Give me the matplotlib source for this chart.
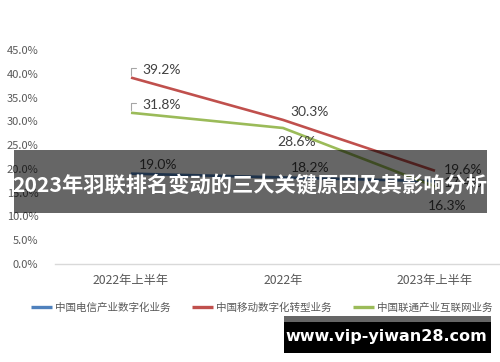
import matplotlib
matplotlib.use("Agg")
import matplotlib.pyplot as plt
from matplotlib.patches import Rectangle
from matplotlib.ticker import FuncFormatter, MultipleLocator

plt.rcParams['font.family'] = ['Noto Sans CJK SC', 'DejaVu Sans']

categories = ["2022年上半年", "2022年", "2023年上半年"]
series_names = ["中国电信产业数字化业务", "中国移动数字化转型业务", "中国联通产业互联网业务"]
telecom = [19.0, 18.2, 17.4]
mobile = [39.2, 30.3, 19.6]
unicom = [31.8, 28.6, 16.3]
title = "2023年羽联排名变动的三大关键原因及其影响分析"
watermark = "www.vip-yiwan28.com"

colors = ["#4F81BD", "#C0504D", "#9BBB59"]

W, H = 500, 362
fig = plt.figure(figsize=(W / 100, H / 100), dpi=100)
ax = fig.add_axes([55 / W, 1 - 264 / H, (511 - 55) / W, (264 - 50) / H])
ax.set_xlim(-0.5, 2.5)
ax.set_ylim(0, 45)
x = list(range(len(categories)))

for vals, c, name in zip([telecom, mobile, unicom], colors, series_names):
    ax.plot(x, vals, color=c, lw=1.9, label=name, solid_capstyle='butt', zorder=3)

for s in ['top', 'right', 'left']:
    ax.spines[s].set_visible(False)
ax.spines['bottom'].set_color('#D9D9D9')
ax.spines['bottom'].set_linewidth(1.0)
ax.yaxis.set_major_locator(MultipleLocator(5))
ax.yaxis.set_major_formatter(FuncFormatter(lambda v, p: f"{v:.1f}%"))
ax.tick_params(axis='y', length=0, labelsize=8, labelcolor='#595959', pad=12)
ax.tick_params(axis='x', length=0, labelsize=8.8, labelcolor='#595959', pad=7)
ax.set_xticks(x)
ax.set_xticklabels(categories)

lab_kw = dict(textcoords='offset pixels', fontsize=10, color='#404040',
              family=['Lato', 'DejaVu Sans'], va='center', zorder=4)

def lab(xi, v, dx, dy, ha='center', leader=False):
    ax.annotate(f"{v:.1f}%", (xi, v), xytext=(dx, dy), ha=ha, **lab_kw)
    if leader:
        ax.annotate("", (xi, v), xytext=(5, 10), textcoords='offset pixels',
                    arrowprops=dict(arrowstyle='-', color='#A6A6A6', lw=0.8,
                                    shrinkA=0, shrinkB=2,
                                    connectionstyle='angle,angleA=0,angleB=90,rad=0'),
                    zorder=4)

lab(0, mobile[0], 11, 8, ha='left', leader=True)
lab(0, unicom[0], 11, 8, ha='left', leader=True)
lab(1, mobile[1], 27, 8)
lab(1, unicom[1], 14, -14)
lab(0, telecom[0], 27, 9)
lab(1, telecom[1], 27, 9)
lab(2, mobile[2], 28, 1)
lab(2, telecom[2], 28, -2)
lab(2, unicom[2], 12, -20)

leg = fig.legend(loc='center', bbox_to_anchor=(0.523, 1 - 308 / H), ncol=3,
                 frameon=False, fontsize=7.6, handlelength=2.0, handletextpad=0.3,
                 columnspacing=2.0, labelcolor='#595959')
for l in leg.get_lines():
    l.set_linewidth(2.4)

# banner overlay
fig.patches.append(Rectangle((14 / W, 1 - 213 / H), (487 - 14) / W, (213 - 150) / H,
                             transform=fig.transFigure, facecolor='black', alpha=0.6,
                             edgecolor='none', zorder=10))
fig.text(250 / W, 1 - 186 / H, title, color='white', fontsize=15.3, fontweight='bold',
         ha='center', va='center', zorder=11)

# watermark
fig.patches.append(Rectangle((284 / W, 1 - 322 / H), (491 - 284) / W, (322 - 316) / H,
                             transform=fig.transFigure, facecolor='black', alpha=0.6,
                             edgecolor='none', zorder=10))
fig.patches.append(Rectangle((284 / W, 1 - 353 / H), (491 - 284) / W, (353 - 322) / H,
                             transform=fig.transFigure, facecolor='black',
                             edgecolor='none', zorder=10))
fig.text(386 / W, 1 - 337 / H, watermark, color='white', fontsize=11.5, fontweight='bold',
         family=['DejaVu Sans'], ha='center', va='center', zorder=11)

fig.savefig('out.png', dpi=100, facecolor='white')
